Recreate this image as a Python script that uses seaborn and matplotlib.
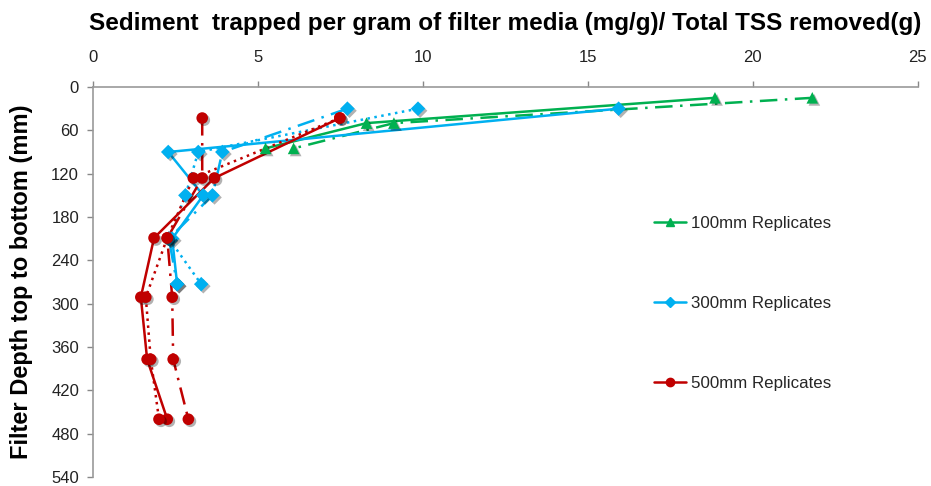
import numpy as np
import pandas as pd
import matplotlib
matplotlib.use("Agg")
import matplotlib.pyplot as plt
import matplotlib.patheffects as pe
from matplotlib.lines import Line2D
import seaborn as sns

# Sediment trapped (mg/g per g TSS removed) versus filter depth (mm)
depth_100 = [15, 50, 85]
rep100_a = [18.85, 8.29, 5.23]
rep100_b = [21.8, 9.12, 6.08]

depth_300 = [30, 90, 150, 210, 273]
rep300_a = [15.93, 2.28, 3.34, 2.40, 2.55]
rep300_b = [9.85, 3.19, 2.80, 2.30, 3.28]
rep300_c = [7.71, 3.92, 3.62, 2.30, 2.55]

depth_500 = [43, 126, 209, 291, 377, 460]
rep500_a = [7.48, 3.68, 1.85, 1.45, 1.64, 2.25]
rep500_b = [7.48, 3.04, 2.25, 1.60, 1.75, 2.00]
rep500_c = [3.31, 3.31, 2.25, 2.40, 2.43, 2.89]

x_ticks = [0, 5, 10, 15, 20, 25]
y_ticks = [0, 60, 120, 180, 240, 300, 360, 420, 480, 540]
group_labels = ["100mm Replicates", "300mm Replicates", "500mm Replicates"]

GREEN = "#00B050"
BLUE = "#00B0F0"
RED = "#C00000"
DOT = (0, (1, 1.8))
DASHDOT = (0, (7, 3, 1, 3))

series = [
    ("100a", depth_100, rep100_a, GREEN, "-", "^"),
    ("100b", depth_100, rep100_b, GREEN, DASHDOT, "^"),
    ("300a", depth_300, rep300_a, BLUE, "-", "D"),
    ("300b", depth_300, rep300_b, BLUE, DOT, "D"),
    ("300c", depth_300, rep300_c, BLUE, DASHDOT, "D"),
    ("500a", depth_500, rep500_a, RED, "-", "o"),
    ("500b", depth_500, rep500_b, RED, DOT, "o"),
    ("500c", depth_500, rep500_c, RED, DASHDOT, "o"),
]

sns.set_theme(style="white")
plt.rcParams["font.family"] = ["Liberation Sans", "DejaVu Sans"]

fig = plt.figure(figsize=(9.31, 4.86), dpi=100)
ax = fig.add_axes([0.0999, 0.0185, 0.886, 0.8025])

marker_shadow = [pe.SimplePatchShadow(offset=(1.5, -1.5), alpha=0.3, shadow_rgbFace="black"),
                 pe.Normal()]

# connecting lines first, then the markers (with a soft drop shadow) on top
for name, dep, vals, color, ls, mk in series:
    df = pd.DataFrame({"value": vals, "depth": dep})
    sns.lineplot(data=df, x="value", y="depth", sort=False, estimator=None,
                 ax=ax, color=color, linestyle=ls, linewidth=1.8, legend=False)

for name, dep, vals, color, ls, mk in series:
    df = pd.DataFrame({"value": vals, "depth": dep})
    size = 55 if mk == "D" else 70
    sns.scatterplot(data=df, x="value", y="depth", ax=ax, color=color,
                    marker=mk, s=size, linewidth=0, legend=False, zorder=3)
    ax.collections[-1].set_path_effects(marker_shadow)

ax.set_xlim(0, 25)
ax.set_ylim(540, 0)
ax.set_xticks(x_ticks)
ax.set_yticks(y_ticks)
ax.xaxis.tick_top()
ax.xaxis.set_label_position("top")
ax.tick_params(axis="both", which="major", labelsize=12, length=4, width=1, direction="out")
ax.tick_params(axis="x", colors="#888888", labelcolor="#222222", pad=12, top=True, bottom=False)
ax.tick_params(axis="y", colors="#888888", labelcolor="#222222", pad=6, left=True)
for side in ["bottom", "right"]:
    ax.spines[side].set_visible(False)
for side in ["top", "left"]:
    ax.spines[side].set_color("#999999")
    ax.spines[side].set_linewidth(1.2)

ax.set_xlabel("Sediment  trapped per gram of filter media (mg/g)/ Total TSS removed(g)",
              fontsize=17.5, fontweight="bold", labelpad=14, color="black")
ax.set_ylabel("Filter Depth top to bottom (mm)", fontsize=17, fontweight="bold",
              labelpad=13, color="black")

handles = [
    Line2D([], [], color=GREEN, lw=1.8, marker="^", markersize=6),
    Line2D([], [], color=BLUE, lw=1.8, marker="D", markersize=5),
    Line2D([], [], color=RED, lw=1.8, marker="o", markersize=6),
]
ax.legend(handles, group_labels, loc="upper left", bbox_to_anchor=(0.672, 0.687),
          frameon=False, fontsize=12.2, labelspacing=3.85, handlelength=1.9,
          handletextpad=0.25, borderaxespad=0)

fig.savefig("out.png", dpi=100)
